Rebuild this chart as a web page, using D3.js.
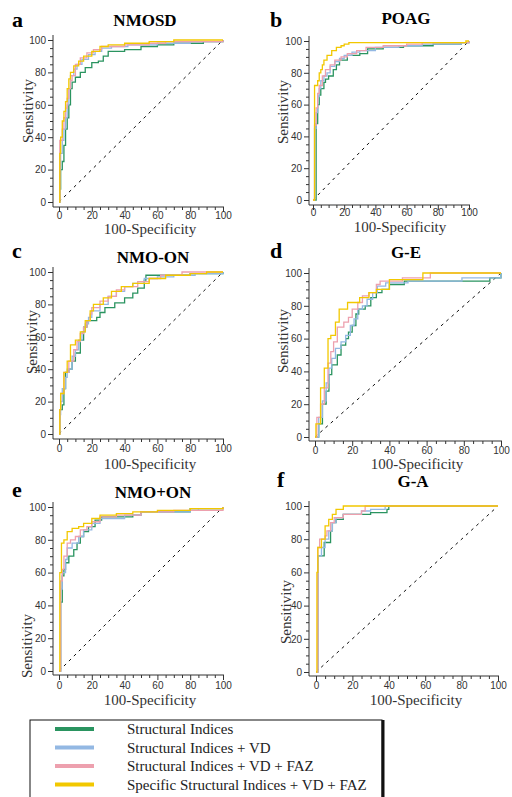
<!DOCTYPE html>
<html>
<head>
<meta charset="utf-8">
<script src="https://cdn.jsdelivr.net/npm/d3@7"></script>
<style>
  body { margin: 0; background: #fff; }
  svg { display: block; }
</style>
</head>
<body>
<svg id="chart"></svg>
<script>
// series names (legend)
const seriesNames = [
  'Structural Indices',
  'Structural Indices + VD',
  'Structural Indices + VD + FAZ',
  'Specific Structural Indices + VD + FAZ'
];
const majorTicks = [0, 20, 40, 60, 80, 100];
const minorTicks = [5, 10, 15, 25, 30, 35, 45, 50, 55, 65, 70, 75, 85, 90, 95];

// ROC points [100-Specificity, Sensitivity]
const aGreen = [[0,0],[0.5,8],[1,20],[2,25],[3,35],[4,45],[5,52],[6,60],[7,70],[8,74],[10,77],[13,80],[16,83],[20,86],[24,87],[27,90],[30,93],[40,94],[50,96],[60,97],[70,98],[88,99],[100,100]];
const aBlue = [[0,0],[0.5,20],[1,30],[2,38],[3,45],[4,52],[5,60],[6,70],[7,78],[9,82],[11,85],[14,88],[18,91],[22,93],[26,95],[32,96],[42,97],[60,98],[80,99],[100,100]];
const aPink = [[0,0],[0.5,38],[2,45],[3,52],[4,58],[5,64],[6,70],[7,75],[8,78],[10,85],[13,89],[17,92],[21,94],[26,96],[40,97],[55,98],[65,99],[100,100]];
const aYellow = [[0,0],[0.5,30],[1,40],[2,50],[3,56],[4,62],[5,70],[6,76],[7,80],[9,84],[12,87],[15,90],[20,93],[25,96],[30,97],[40,98],[55,99],[70,100],[100,100]];

const bGreen = [[0,0],[1,0],[2,48],[3,60],[4,66],[5,70],[7,74],[8,76],[10,78],[13,82],[15,85],[17,88],[22,91],[30,92],[35,95],[45,96],[58,97],[77,98],[95,99],[100,100]];
const bBlue = [[0,0],[1,45],[2,55],[3,65],[4,70],[5,75],[7,78],[9,80],[11,84],[14,87],[17,89],[20,91],[25,93],[30,94],[40,96],[55,97],[70,98],[95,99],[100,100]];
const bPink = [[0,0],[1,47],[2,58],[3,67],[4,72],[6,78],[8,82],[11,85],[14,88],[18,90],[22,92],[28,94],[34,96],[45,97],[60,98],[70,99],[100,100]];
const bYellow = [[0,0],[1,72],[3,75],[4,80],[5,82],[6,85],[7,88],[9,91],[12,94],[15,96],[18,97],[20,98],[23,99],[98,100],[100,100]];

const cGreen = [[0,0],[0.5,15],[2,18],[3,28],[4,38],[6,40],[8,45],[10,50],[13,58],[15,66],[17,70],[23,72],[25,75],[28,78],[34,81],[40,84],[45,87],[48,90],[52,95],[53,98],[80,99],[100,100]];
const cBlue = [[0,0],[0.5,12],[1,20],[2,28],[4,35],[5,40],[8,48],[10,52],[12,58],[14,63],[16,68],[18,72],[20,76],[25,80],[30,85],[35,88],[40,91],[45,93],[52,96],[60,97],[70,98],[83,99],[100,100]];
const cPink = [[0,0],[0.5,15],[1,25],[3,38],[6,45],[9,52],[11,57],[13,62],[15,66],[17,70],[19,74],[20,78],[25,82],[30,85],[35,89],[40,91],[48,94],[55,96],[62,98],[75,100],[100,100]];
const cYellow = [[0,0],[0.5,15],[1,25],[3,38],[5,45],[7,55],[10,58],[13,63],[16,70],[19,76],[21,80],[27,84],[32,88],[38,91],[45,93],[55,96],[65,98],[80,99],[90,100],[100,100]];

const dGreen = [[0,0],[2,8],[4,20],[6,28],[7.5,38],[9,44],[12,50],[14,56],[16.5,60],[18,64],[20,68],[22,75],[23.5,78],[27,80],[30,85],[33,88],[36,90],[40,93],[48,95],[94,97],[100,100]];
const dBlue = [[0,0],[2,12],[4,22],[6,33],[7.5,42],[9,48],[11,54],[14,58],[16.5,62],[19,68],[21,72],[23,78],[25.5,80],[28,84],[31,88],[33.5,92],[38,94],[50,95],[79,97],[100,100]];
const dPink = [[0,0],[1,12],[3,20],[5,30],[7,45],[8.5,52],[10,58],[12,67],[15.5,70],[18,73],[20,78],[23,82],[25.5,86],[29,88],[33,93],[35,95],[47,97],[62,100],[100,100]];
const dYellow = [[0,0],[0.5,8],[3,30],[5,42],[7,60],[8.5,62],[11,70],[13,78],[17.5,82],[24,85],[29,88],[33,90],[40,96],[58,100],[100,100]];

const eGreen = [[0,0],[1,42],[2,58],[3,62],[4,66],[6,70],[9,74],[11,78],[13,82],[15,85],[18,88],[22,92],[26,94],[45,95],[50,97],[78,97],[80,99],[100,100]];
const eBlue = [[0,0],[1,50],[2,60],[4,68],[5,75],[8,78],[12,82],[15,86],[20,90],[25,93],[40,95],[50,97],[80,98],[85,99],[100,100]];
const ePink = [[0,0],[1,55],[2,62],[3,70],[5,78],[7,80],[10,82],[13,86],[17,88],[20,91],[25,94],[35,95],[50,97],[70,98],[100,100]];
const eYellow = [[0,0],[0.5,60],[1.5,78],[3,80],[5,85],[8,87],[12,88],[15,90],[20,93],[25,95],[35,96],[45,97],[60,98],[80,99],[100,100]];

const fGreen = [[0,0],[1,70],[4,70],[4.5,78],[7,78],[8,85],[9,90],[11,92],[15,95],[30,96],[39,98],[40,100],[100,100]];
const fBlue = [[0,0],[1,70],[3,75],[5,80],[7,85],[9,90],[11,93],[15,95],[25,97],[30,98],[38,100],[100,100]];
const fPink = [[0,0],[1,75],[2,80],[5,82],[6,85],[8,90],[10,93],[15,95],[25,97],[27,100],[100,100]];
const fYellow = [[0,0],[0.5,60],[1,75],[3,80],[5,88],[7,92],[9,95],[11,98],[15,100],[100,100]];

const colors = ['#2a9460', '#93b8e3', '#eda0ae', '#f2c800'];
const serif = "'Liberation Serif', 'Times New Roman', Times, 'DejaVu Serif', serif";
const sans = "'Liberation Sans', Arial, sans-serif";

// layout of the six panels
const panels = [
  { letter: 'a', title: 'NMOSD', data: [aGreen, aBlue, aPink, aYellow],
    ax: 53, x0: 59, x1: 223, y0: 202, y1: 40, by: 207, lx: 12, ly: 27, tx: 145, ty: 26,
    sx: 28, sy: 111, xly: 234, tly: 219 },
  { letter: 'b', title: 'POAG', data: [bGreen, bBlue, bPink, bYellow],
    ax: 309, x0: 313, x1: 469, y0: 200, y1: 41, by: 205, lx: 270, ly: 27, tx: 406, ty: 24,
    sx: 283, sy: 112, xly: 232, tly: 216 },
  { letter: 'c', title: 'NMO-ON', data: [cGreen, cBlue, cPink, cYellow],
    ax: 53, x0: 59, x1: 223, y0: 434, y1: 272, by: 439, lx: 12, ly: 258, tx: 153, ty: 263,
    sx: 32, sy: 342, xly: 469, tly: 452 },
  { letter: 'd', title: 'G-E', data: [dGreen, dBlue, dPink, dYellow],
    ax: 309, x0: 315, x1: 501, y0: 437, y1: 273, by: 441, lx: 270, ly: 258, tx: 406, ty: 258,
    sx: 283, sy: 341, xly: 469, tly: 454 },
  { letter: 'e', title: 'NMO+ON', data: [eGreen, eBlue, ePink, eYellow],
    ax: 53, x0: 59, x1: 223, y0: 671, y1: 507, by: 675, lx: 12, ly: 497, tx: 153, ty: 498,
    sx: 27, sy: 646, xly: 705, tly: 689 },
  { letter: 'f', title: 'G-A', data: [fGreen, fBlue, fPink, fYellow],
    ax: 309, x0: 316, x1: 498, y0: 672, y1: 506, by: 676, lx: 277, ly: 487, tx: 413, ty: 487,
    sx: 286, sy: 612, xly: 705, tly: 689 }
];

const svg = d3.select('#chart')
  .attr('width', 512)
  .attr('height', 797);

svg.append('rect').attr('width', 512).attr('height', 797).attr('fill', '#fff');

panels.forEach(p => {
  const g = svg.append('g');
  const x = d3.scaleLinear().domain([0, 100]).range([p.x0, p.x1]);
  const y = d3.scaleLinear().domain([0, 100]).range([p.y0, p.y1]);

  // y axis
  g.append('g')
    .attr('transform', `translate(${p.ax},0)`)
    .call(d3.axisLeft(y).tickValues(minorTicks).tickSize(3).tickFormat(''))
    .call(s => s.select('.domain').remove());
  g.append('g')
    .attr('transform', `translate(${p.ax},0)`)
    .call(d3.axisLeft(y).tickValues(majorTicks).tickSize(5).tickPadding(2))
    .call(s => s.select('.domain').remove())
    .call(s => s.selectAll('text').attr('font-family', sans).attr('font-size', 10).attr('fill', '#333'));

  // x axis
  g.append('g')
    .attr('transform', `translate(0,${p.by})`)
    .call(d3.axisBottom(x).tickValues(minorTicks).tickSize(3).tickFormat(''))
    .call(s => s.select('.domain').remove());
  const xa = g.append('g')
    .attr('transform', `translate(0,${p.by})`)
    .call(d3.axisBottom(x).tickValues(majorTicks).tickSize(5).tickFormat(d3.format('d')))
    .call(s => s.select('.domain').remove());
  xa.selectAll('text')
    .attr('font-family', sans).attr('font-size', 10).attr('fill', '#333')
    .attr('dy', null).attr('y', p.tly - p.by);

  g.selectAll('.tick line').attr('stroke', '#333');

  g.append('line')
    .attr('x1', p.ax).attr('x2', p.ax)
    .attr('y1', p.by).attr('y2', p.y1 - 5)
    .attr('stroke', '#333');
  g.append('line')
    .attr('x1', p.ax).attr('x2', p.x1 + 1)
    .attr('y1', p.by).attr('y2', p.by)
    .attr('stroke', '#333');

  // reference diagonal
  g.append('line')
    .attr('x1', x(0)).attr('y1', y(0))
    .attr('x2', x(100)).attr('y2', y(100))
    .attr('stroke', '#111').attr('stroke-width', 1)
    .attr('stroke-dasharray', '3,4');

  const line = d3.line()
    .x(d => x(d[0]))
    .y(d => y(d[1]))
    .curve(d3.curveStepAfter);

  p.data.forEach((s, i) => {
    g.append('path')
      .datum(s)
      .attr('d', line)
      .attr('fill', 'none')
      .attr('stroke', colors[i])
      .attr('stroke-width', 1.3);
  });

  g.append('text')
    .attr('x', p.lx).attr('y', p.ly)
    .attr('font-family', serif).attr('font-weight', 'bold').attr('font-size', 22)
    .text(p.letter);
  g.append('text')
    .attr('x', p.tx).attr('y', p.ty)
    .attr('text-anchor', 'middle')
    .attr('font-family', serif).attr('font-weight', 'bold').attr('font-size', 17)
    .text(p.title);
  g.append('text')
    .attr('transform', `translate(${p.sx},${p.sy}) rotate(-90)`)
    .attr('text-anchor', 'middle').attr('dy', '0.35em')
    .attr('font-family', serif).attr('font-size', 15).attr('fill', '#333')
    .text('Sensitivity');
  g.append('text')
    .attr('x', (p.x0 + p.x1) / 2 + 9).attr('y', p.xly)
    .attr('text-anchor', 'middle')
    .attr('font-family', serif).attr('font-size', 15).attr('fill', '#333')
    .text('100-Specificity');
});

// legend
const leg = svg.append('g');
leg.append('rect')
  .attr('x', 30).attr('y', 720)
  .attr('width', 352).attr('height', 90)
  .attr('fill', 'none').attr('stroke', '#111').attr('stroke-width', 1);
leg.append('line')
  .attr('x1', 383).attr('x2', 383).attr('y1', 720).attr('y2', 797)
  .attr('stroke', '#111').attr('stroke-width', 3);

seriesNames.forEach((name, i) => {
  const yy = 729 + i * 18.5;
  leg.append('line')
    .attr('x1', 55).attr('x2', 94)
    .attr('y1', yy).attr('y2', yy)
    .attr('stroke', colors[i]).attr('stroke-width', 4);
  leg.append('text')
    .attr('x', 127).attr('y', yy).attr('dy', '0.35em')
    .attr('font-family', serif).attr('font-size', 15).attr('fill', '#222')
    .text(name);
});
</script>
</body>
</html>
